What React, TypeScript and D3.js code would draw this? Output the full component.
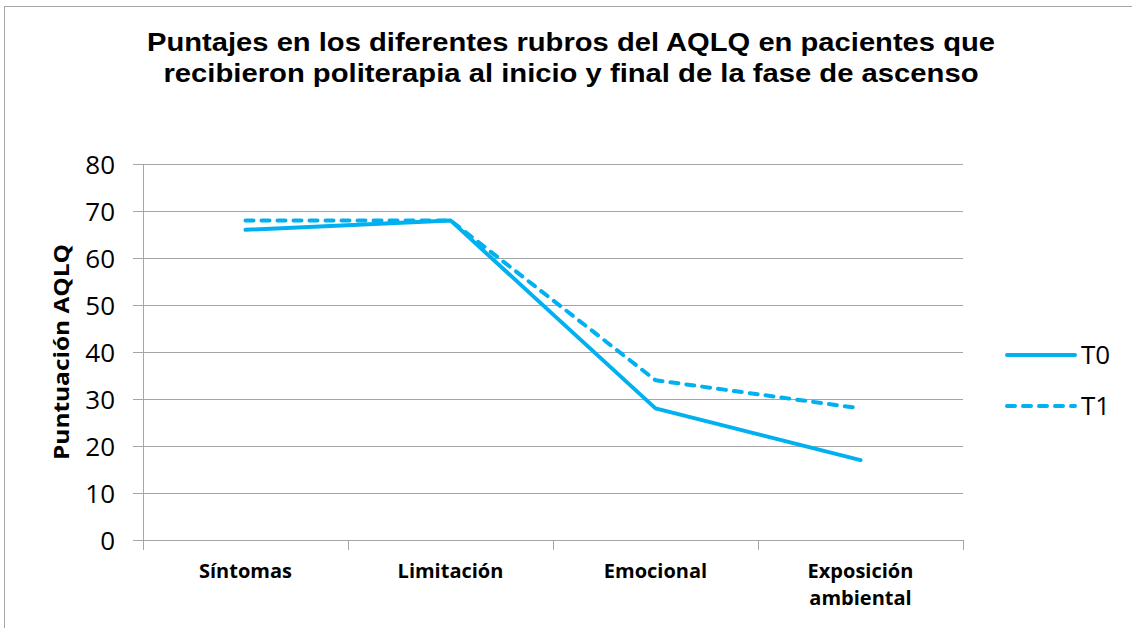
import React from "react";
import * as d3 from "d3";

const categories = ["Síntomas", "Limitación", "Emocional", "Exposición ambiental"];
const t0Values = [66, 68, 28, 17];
const t1Values = [68, 68, 34, 28];
const yTicks = [0, 10, 20, 30, 40, 50, 60, 70, 80];
const seriesNames = ["T0", "T1"];
const titleLines = [
  "Puntajes en los diferentes rubros del AQLQ en pacientes que",
  "recibieron politerapia al inicio y final de la fase de ascenso",
];
const yLabel = "Puntuación AQLQ";

const W = 1132;
const H = 628;
const color = "#00B0F0";
const gridColor = "#A6A6A6";
const titleLengths = [848, 815];

export default function App() {
  const x = d3.scaleBand<string>().domain(categories).range([143, 963]).paddingInner(0).paddingOuter(0);
  const y = d3.scaleLinear().domain([0, 80]).range([540, 164]);
  const line = d3
    .line<number>()
    .x((_, i) => (x(categories[i]) as number) + x.bandwidth() / 2)
    .y((d) => y(d));
  const series = [
    { name: seriesNames[0], values: t0Values, dash: undefined as string | undefined },
    { name: seriesNames[1], values: t1Values, dash: "8,8" },
  ];
  const tickBounds = [...categories.map((c) => x(c) as number), 963];
  return (
    <svg width={W} height={H} style={{ position: "absolute", left: 0, top: 0 }}>
      <rect x={0} y={0} width={W} height={H} fill="#fff" />
      <rect x={4.5} y={6.5} width={W + 10} height={H + 10} fill="none" stroke={gridColor} strokeWidth={1} />
      {titleLines.map((t, i) => (
        <text
          key={i}
          x={571}
          y={51 + i * 31}
          textAnchor="middle"
          fontFamily="Liberation Sans, Arial, sans-serif"
          fontWeight="bold"
          fontSize={25}
          textLength={titleLengths[i]}
          lengthAdjust="spacingAndGlyphs"
          fill="#000"
        >
          {t}
        </text>
      ))}
      {yTicks.map((t) => (
        <g key={t}>
          {t > 0 && <line x1={143} x2={963} y1={y(t) + 0.5} y2={y(t) + 0.5} stroke={gridColor} strokeWidth={1} />}
          <line x1={133} x2={143} y1={y(t) + 0.5} y2={y(t) + 0.5} stroke={gridColor} strokeWidth={1} />
          <text
            x={115}
            y={y(t) + 10}
            textAnchor="end"
            fontFamily="Open Sans, sans-serif"
            fontSize={26}
            fill="#000"
          >
            {t}
          </text>
        </g>
      ))}
      <line x1={143.5} x2={143.5} y1={164} y2={540} stroke={gridColor} strokeWidth={1} />
      <line x1={133} x2={963} y1={540.5} y2={540.5} stroke={gridColor} strokeWidth={1} />
      {tickBounds.map((b, i) => (
        <line key={i} x1={b + 0.5} x2={b + 0.5} y1={540} y2={550} stroke={gridColor} strokeWidth={1} />
      ))}
      {categories.map((c) => {
        const cx = (x(c) as number) + x.bandwidth() / 2;
        const parts = c === "Exposición ambiental" ? ["Exposición", "ambiental"] : [c];
        return (
          <text
            key={c}
            x={cx}
            y={578}
            textAnchor="middle"
            fontFamily="Open Sans, sans-serif"
            fontWeight="bold"
            fontSize={20}
            fill="#000"
          >
            {parts.map((p, i) => (
              <tspan key={i} x={cx} dy={i === 0 ? 0 : 27}>
                {p}
              </tspan>
            ))}
          </text>
        );
      })}
      <text
        transform={`translate(69,352) rotate(-90)`}
        textAnchor="middle"
        fontFamily="Open Sans, sans-serif"
        fontWeight="bold"
        fontSize={22}
        textLength={216}
        lengthAdjust="spacingAndGlyphs"
        fill="#000"
      >
        {yLabel}
      </text>
      {series.map((s) => (
        <path
          key={s.name}
          d={line(s.values) as string}
          fill="none"
          stroke={color}
          strokeWidth={4}
          strokeDasharray={s.dash}
          strokeLinecap="round"
          strokeLinejoin="round"
        />
      ))}
      {series.map((s, i) => {
        const ly = 355 + i * 51;
        return (
          <g key={s.name}>
            <line
              x1={1007}
              x2={1075}
              y1={ly}
              y2={ly}
              stroke={color}
              strokeWidth={4}
              strokeDasharray={s.dash}
              strokeLinecap="round"
            />
            <text x={1081} y={ly + 9} fontFamily="Open Sans, sans-serif" fontSize={26} fill="#000">
              {s.name}
            </text>
          </g>
        );
      })}
    </svg>
  );
}
